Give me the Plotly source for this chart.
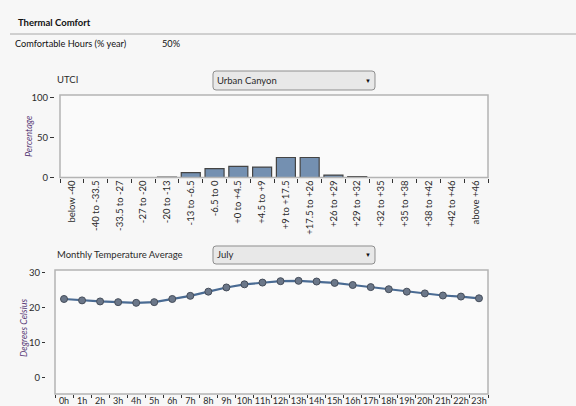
import plotly.graph_objects as go

# ---------------- data ----------------
utci_bins = ["below -40", "-40 to -33.5", "-33.5 to -27", "-27 to -20", "-20 to -13",
             "-13 to -6.5", "-6.5 to 0", "+0 to +4.5", "+4.5 to +9", "+9 to +17.5",
             "+17.5 to +26", "+26 to +29", "+29 to +32", "+32 to +35", "+35 to +38",
             "+38 to +42", "+42 to +46", "above +46"]
utci_pct = [0, 0, 0, 0, 0.6, 6, 11, 14, 13, 25, 25, 3, 1, 0, 0, 0, 0, 0]

hours = ["0h", "1h", "2h", "3h", "4h", "5h", "6h", "7h", "8h", "9h", "10h", "11h",
         "12h", "13h", "14h", "15h", "16h", "17h", "18h", "19h", "20h", "21h", "22h", "23h"]
july_temp = [22.4, 22.0, 21.7, 21.5, 21.3, 21.5, 22.4, 23.3, 24.5, 25.7, 26.6, 27.1,
             27.5, 27.6, 27.4, 27.0, 26.4, 25.8, 25.2, 24.5, 24.0, 23.4, 23.1, 22.6]

W, H = 576, 406
FONT = "Lato"
TXT = "#2b2b2b"
PURPLE = "#5a3c78"


def px(x):
    return x / W


def py(y):
    return 1 - y / H


def rpath(x0, y0, x1, y1, r):
    def P(x, y):
        return f"{px(x):.5f},{py(y):.5f}"
    return (f"M {P(x0 + r, y0)} L {P(x1 - r, y0)} Q {P(x1, y0)} {P(x1, y0 + r)} "
            f"L {P(x1, y1 - r)} Q {P(x1, y1)} {P(x1 - r, y1)} L {P(x0 + r, y1)} "
            f"Q {P(x0, y1)} {P(x0, y1 - r)} L {P(x0, y0 + r)} Q {P(x0, y0)} {P(x0 + r, y0)} Z")


fig = go.Figure()

fig.add_trace(go.Bar(
    x=utci_bins, y=utci_pct, xaxis="x", yaxis="y", width=0.8,
    marker=dict(color="#7490b1", line=dict(color="#444444", width=1.2)),
    hoverinfo="x+y", showlegend=False))

fig.add_trace(go.Scatter(
    x=hours, y=july_temp, xaxis="x2", yaxis="y2", mode="lines+markers",
    line=dict(color="#4a6b93", width=2.2),
    marker=dict(color="#6b7789", size=7, line=dict(color="#454d5a", width=1)),
    showlegend=False))

bar_x = [60, 488]
bar_y = [95, 177.5]
line_x = [55, 488]
line_y = [270, 394]

tickfont = dict(family=FONT, size=9.5, color=TXT)

fig.update_layout(
    width=W, height=H,
    margin=dict(l=0, r=0, t=0, b=0),
    paper_bgcolor="#f7f7f7", plot_bgcolor="#fafafa",
    font=dict(family=FONT, size=9.5, color=TXT),
    xaxis=dict(domain=[px(bar_x[0]), px(bar_x[1])], anchor="y", type="category",
               range=[-0.5, len(utci_bins) - 0.5], tickson="boundaries",
               ticks="outside", ticklen=4, tickcolor="#333", tickwidth=1,
               tickangle=-90, tickfont=tickfont, showgrid=False, showline=False,
               zeroline=False, automargin=False, fixedrange=True),
    yaxis=dict(domain=[py(bar_y[1]), py(bar_y[0])], anchor="free", position=px(54),
               range=[0, 103.1], tickvals=[0, 50, 100], ticks="outside", ticklen=4,
               tickcolor="#333", tickfont=tickfont, showgrid=False, showline=False,
               zeroline=False, automargin=False, fixedrange=True),
    xaxis2=dict(domain=[px(line_x[0]), px(line_x[1])], anchor="y2", type="category",
                range=[-0.5, len(hours) - 0.5], tickson="boundaries", tickangle=0,
                ticks="outside", ticklen=3, tickcolor="#333",
                tickfont=dict(family=FONT, size=9, color=TXT),
                showgrid=False, showline=False, zeroline=False, automargin=False,
                fixedrange=True),
    yaxis2=dict(domain=[py(line_y[1]), py(line_y[0])], anchor="free", position=px(45),
                range=[-4.8, 30.7], tickvals=[0, 10, 20, 30], ticks="outside", ticklen=3,
                tickcolor="#333", tickfont=tickfont, showgrid=False, showline=False,
                zeroline=False, automargin=False, fixedrange=True),
)

shapes = [
    dict(type="line", xref="paper", yref="paper", x0=px(10), x1=px(576), y0=py(34), y1=py(34),
         line=dict(color="#a8a8a8", width=1)),
    dict(type="rect", xref="x domain", yref="y domain", x0=0, x1=1, y0=0, y1=1,
         line=dict(color="#b4b4b4", width=1.5), layer="above"),
    dict(type="rect", xref="x2 domain", yref="y2 domain", x0=0, x1=1, y0=0, y1=1,
         line=dict(color="#b4b4b4", width=1.5), layer="above"),
    dict(type="path", xref="paper", yref="paper", path=rpath(213, 71, 375, 90, 3),
         fillcolor="#e8e8e8", line=dict(color="#8e8e8e", width=1)),
    dict(type="path", xref="paper", yref="paper", path=rpath(213, 246, 375, 264, 3),
         fillcolor="#e8e8e8", line=dict(color="#8e8e8e", width=1)),
]
fig.update_layout(shapes=shapes)


def label(text, x, y, size=9.5, bold=False, color=TXT, anchor="left", angle=0, italic=False):
    t = f"<b>{text}</b>" if bold else text
    t = f"<i>{t}</i>" if italic else t
    fig.add_annotation(text=t, xref="paper", yref="paper", x=px(x), y=py(y),
                       xanchor=anchor, yanchor="middle", showarrow=False, textangle=angle,
                       borderpad=0, font=dict(family=FONT, size=size, color=color))


label("Thermal Comfort", 17, 23, size=9.5, bold=True, color="#111")
label("Comfortable Hours (% year)", 14, 43, size=9.2, color="#111")
label("50%", 161, 43, size=9.2, color="#111")
label("UTCI", 56, 80)
label("Urban Canyon", 216, 80.5)
label("▼", 368, 80.5, size=6, anchor="center", color="#111")
label("Monthly Temperature Average", 56, 254)
label("July", 216, 255)
label("▼", 368, 255, size=6, anchor="center", color="#111")
label("Percentage", 28, 137, size=9, color=PURPLE, anchor="center", angle=-90, italic=True)
label("Degrees Celsius", 23, 328, size=9, color=PURPLE, anchor="center", angle=-90, italic=True)

fig.write_html("out.html", config={"displayModeBar": False},
               post_script="document.body.style.margin='0px';document.body.style.overflow='hidden';")
